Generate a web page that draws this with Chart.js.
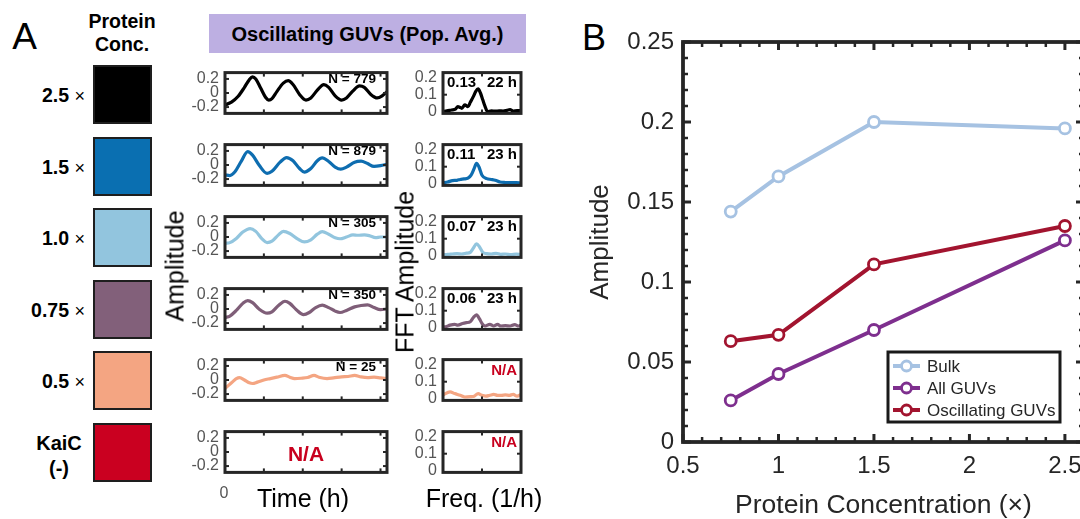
<!DOCTYPE html>
<html><head><meta charset="utf-8">
<script src="https://cdn.jsdelivr.net/npm/chart.js@4.4.0/dist/chart.umd.min.js"></script>
<style>
html,body{margin:0;padding:0;overflow:hidden;background:#fff;}
#fig{position:relative;width:1080px;height:519px;overflow:hidden;font-family:'Liberation Sans',Arial,sans-serif;}
.t{position:absolute;line-height:1;white-space:nowrap;}
canvas{position:absolute;}
.sq{position:absolute;box-sizing:border-box;border:2.5px solid #1e1e1e;width:59px;height:59px;}
</style></head><body><div id="fig"></div>
<script>
// ================= DATA =================
const concLabels = ['2.5', '1.5', '1.0', '0.75', '0.5'];
const negLabel = ['KaiC', '(-)'];
const nCounts = [779, 879, 305, 350, 25];
const fftPeakAmp = ['0.13', '0.11', '0.07', '0.06'];
const fftPeriod = ['22 h', '23 h', '23 h', '23 h'];
const timeTicksA = [-0.2, 0, 0.2];
const fftTicksA = [0, 0.1, 0.2];

// population-averaged time series (hours, amplitude)
const tsHours25 = [0,4,8,12,15,17,19,22,25,27,29,32,36,39,42,46,50,53,57,61,64,68,72,75,79,83,86,90,94,97,100];
const tsAmp25   = [-0.17,-0.13,-0.05,0.08,0.19,0.23,0.2,0.07,-0.06,-0.10,-0.08,0.02,0.14,0.175,0.12,-0.02,-0.10,-0.07,0.04,0.12,0.08,-0.04,-0.10,-0.07,0.03,0.10,0.08,-0.02,-0.07,-0.04,0.02];
const tsHours15 = [0,3,6,10,14,17,21,26,29,34,38,42,46,49,53,57,60,64,68,71.5,75,80,84,88,92,96,100];
const tsAmp15   = [-0.14,-0.15,-0.10,0.05,0.19,0.14,0.0,-0.12,-0.09,0.04,0.105,0.06,-0.05,-0.10,-0.05,0.06,0.10,0.05,-0.03,-0.06,-0.03,0.04,0.055,0.02,-0.02,-0.01,0.01];
const tsHours10 = [0,3,7,11,15.5,19,23,26,29,33,36,40,45,49,53,57,60,64,68,71,75,79,82,86,89,93,96,100];
const tsAmp10   = [-0.09,-0.08,-0.02,0.07,0.12,0.08,-0.03,-0.08,-0.06,0.03,0.08,0.05,-0.03,-0.07,-0.04,0.04,0.075,0.04,-0.01,-0.025,0.0,0.03,0.025,0.03,0.02,-0.01,0.0,0.0];
const tsHours075 = [0,3,7,11,14,17,21,26,29,33,37,40,44,48.5,52,56,60,64,68,71,75,80,84,88,92,96,100];
const tsAmp075   = [-0.12,-0.10,-0.02,0.08,0.12,0.09,0.0,-0.06,-0.04,0.05,0.11,0.08,-0.01,-0.08,-0.05,0.02,0.055,0.02,-0.03,-0.05,-0.02,0.03,0.05,0.06,0.02,-0.01,0.0];
const tsHours05 = [0,2,5,7,9,12,15,17,20,24,28,32,37,40,43,47,51,55,58,63,67,72,76,80,84,88,92,96,100];
const tsAmp05   = [-0.12,-0.08,-0.02,0.02,0.035,0.0,-0.04,-0.05,-0.03,0.0,0.02,0.04,0.065,0.04,0.02,0.025,0.035,0.065,0.04,0.02,0.03,0.045,0.05,0.065,0.045,0.035,0.04,0.03,0.02];

// FFT spectra (1/h, amplitude)
const fftFreq25 = [0,0.005,0.011,0.016,0.019,0.022,0.024,0.028,0.032,0.035,0.039,0.042,0.045,0.048,0.051,0.054,0.057,0.062,0.067,0.072,0.077,0.082,0.086,0.09,0.095,0.1];
const fftAmp25  = [0,0.005,0.01,0.015,0.03,0.025,0.02,0.04,0.03,0.055,0.09,0.12,0.134,0.11,0.07,0.03,0.0,0.005,0.003,0.005,0.004,0.008,0.012,0.004,0.006,0.006];
const fftFreq15 = [0,0.006,0.012,0.018,0.022,0.027,0.032,0.036,0.04,0.043,0.046,0.05,0.056,0.062,0.067,0.073,0.08,0.087,0.094,0.1];
const fftAmp15  = [0.005,0.01,0.018,0.02,0.025,0.028,0.033,0.05,0.09,0.12,0.1,0.05,0.03,0.025,0.02,0.01,0.007,0.006,0.006,0.005];
const fftFreq10 = [0,0.006,0.012,0.018,0.024,0.03,0.035,0.039,0.043,0.047,0.051,0.056,0.062,0.068,0.074,0.08,0.087,0.094,0.1];
const fftAmp10  = [0.005,0.008,0.01,0.012,0.01,0.015,0.02,0.045,0.07,0.05,0.02,0.012,0.01,0.014,0.008,0.01,0.006,0.009,0.007];
const fftFreq075 = [0,0.003,0.009,0.015,0.019,0.025,0.03,0.035,0.039,0.043,0.047,0.05,0.054,0.06,0.065,0.07,0.074,0.08,0.086,0.092,0.097,0.1];
const fftAmp075  = [0.005,0.005,0.015,0.02,0.015,0.025,0.03,0.035,0.06,0.075,0.05,0.025,0.01,0.02,0.01,0.02,0.01,0.012,0.01,0.018,0.01,0.015];
const fftFreq05 = [0,0.003,0.009,0.015,0.022,0.028,0.035,0.04,0.045,0.05,0.055,0.06,0.065,0.07,0.075,0.08,0.085,0.09,0.095,0.1];
const fftAmp05  = [0.02,0.03,0.04,0.03,0.02,0.01,0.012,0.015,0.03,0.02,0.015,0.02,0.025,0.02,0.02,0.022,0.02,0.025,0.015,0.025];

// Panel B
const proteinConc = [0.75, 1, 1.5, 2.5];
const bulkAmp   = [0.144, 0.166, 0.200, 0.196];
const allGuvAmp = [0.026, 0.0425, 0.070, 0.126];
const oscGuvAmp = [0.063, 0.067, 0.111, 0.135];
const ampTicksB  = [0, 0.05, 0.1, 0.15, 0.2, 0.25];
const concTicksB = [0.5, 1, 1.5, 2, 2.5];

// ================= STYLE =================
const rowColors = ['#000000', '#0a6fb1', '#92c5de', '#82607a', '#f4a582', '#ca0020'];
const lineColors = ['#000000', '#0e6db0', '#92c5de', '#7f5e78', '#f4a582'];
const FONT = "'Liberation Sans', Arial, sans-serif";
Chart.defaults.font.family = FONT;
const fig = document.getElementById('fig');

function txt(html, x, y, o = {}) {
  const d = document.createElement('div');
  d.className = 't'; d.innerHTML = html;
  d.style.left = x + 'px'; d.style.top = y + 'px';
  d.style.fontSize = (o.size || 16) + 'px';
  d.style.fontWeight = o.bold ? 'bold' : 'normal';
  d.style.color = o.color || '#000';
  const ax = o.align === 'right' ? '-100%' : o.align === 'left' ? '0' : '-50%';
  d.style.transform = `translate(${ax},-50%)` + (o.rot ? ` rotate(${o.rot}deg)` : '');
  fig.appendChild(d); return d;
}
function mkCanvas(left, top, w, h) {
  const c = document.createElement('canvas');
  c.width = w; c.height = h;
  c.style.left = left + 'px'; c.style.top = top + 'px';
  c.style.width = w + 'px'; c.style.height = h + 'px';
  fig.appendChild(c); return c;
}
let frameId = 0;
function makeFrame(cfg) {
  return { id: 'frame' + (frameId++), afterDraw(chart) {
    const { ctx, chartArea: a } = chart; const xs = chart.scales.x, ys = chart.scales.y;
    ctx.save(); ctx.strokeStyle = cfg.color || '#262626'; ctx.lineCap = 'butt';
    const seg = (x1, y1, x2, y2) => { ctx.beginPath(); ctx.moveTo(x1, y1); ctx.lineTo(x2, y2); ctx.stroke(); };
    (cfg.ticks || []).forEach(t => {
      ctx.lineWidth = t.w;
      (t.x || []).forEach(v => { const p = xs.getPixelForValue(v); seg(p, a.top, p, a.top + t.len); seg(p, a.bottom, p, a.bottom - t.len); });
      (t.y || []).forEach(v => { const p = ys.getPixelForValue(v); seg(a.left, p, a.left + t.len, p); seg(a.right, p, a.right - t.len, p); });
    });
    ctx.lineWidth = cfg.lw; ctx.strokeRect(a.left, a.top, a.right - a.left, a.bottom - a.top);
    ctx.restore();
  }};
}

// ================= PANEL A =================
txt('A', 24.5, 36, { size: 37 });
txt('Protein', 122, 22, { size: 19.5, bold: true });
txt('Conc.', 122, 45, { size: 19.5, bold: true });
const hdr = document.createElement('div');
Object.assign(hdr.style, { position: 'absolute', left: '209px', top: '14px', width: '317px', height: '39px', background: '#bdafe2' });
fig.appendChild(hdr);
txt('Oscillating GUVs (Pop. Avg.)', 367.5, 33.5, { size: 20, bold: true });

const sqTops = [65, 137, 208, 280, 351, 423];
rowColors.forEach((c, i) => {
  const s = document.createElement('div'); s.className = 'sq';
  s.style.left = '93px'; s.style.top = sqTops[i] + 'px'; s.style.background = c;
  fig.appendChild(s);
  const cy = sqTops[i] + 30.5;
  if (i < concLabels.length) {
    txt(`<b style="font-size:19.5px">${concLabels[i]}</b> <span style="font-size:18px">×</span>`, 85, cy, { align: 'right', size: 19.5 });
  } else {
    txt(negLabel[0], 59, cy - 11, { size: 20, bold: true });
    txt(negLabel[1], 59, cy + 14, { size: 20, bold: true });
  }
});

const tsRows = [[tsHours25, tsAmp25], [tsHours15, tsAmp15], [tsHours10, tsAmp10], [tsHours075, tsAmp075], [tsHours05, tsAmp05], null];
const fftRows = [[fftFreq25, fftAmp25], [fftFreq15, fftAmp15], [fftFreq10, fftAmp10], [fftFreq075, fftAmp075], [fftFreq05, fftAmp05], null];
const frameTops = [66.5, 138.5, 210.5, 282.5, 354, 426];

function smallChart(canvas, rows, col, xr, yr, ticksY, yW, frameTicks) {
  const ds = rows ? [{ data: rows[0].map((x, k) => ({ x: x, y: rows[1][k] })), borderColor: col, borderWidth: 3.2,
    pointRadius: 0, cubicInterpolationMode: 'monotone', fill: false }] : [];
  return new Chart(canvas, {
    type: 'line', data: { datasets: ds },
    options: {
      responsive: false, animation: false, events: [],
      layout: { padding: { left: 0, right: 3, top: 10, bottom: 10 } },
      plugins: { legend: { display: false }, tooltip: { enabled: false } },
      scales: {
        x: { type: 'linear', min: xr[0], max: xr[1], display: false },
        y: { type: 'linear', min: yr[0], max: yr[1],
          afterFit(s) { s.width = yW; },
          afterBuildTicks(s) { s.ticks = ticksY.map(v => ({ value: v })); },
          grid: { display: false, drawTicks: false }, border: { display: false },
          ticks: { padding: 6, color: '#555', font: { size: 16 }, callback: v => String(v) } }
      }
    },
    plugins: [makeFrame({ lw: 3, color: '#262626', ticks: [frameTicks] })]
  });
}

for (let i = 0; i < 6; i++) {
  const ft = frameTops[i];
  const c1 = mkCanvas(175, ft - 10, 215, 72);
  smallChart(c1, tsRows[i], lineColors[i], [0, 100], [-0.29, 0.29], timeTicksA, 50,
    { w: 2, len: 4, x: [24, 48, 72, 96], y: timeTicksA });
  const c2 = mkCanvas(400, ft - 10, 124, 72);
  smallChart(c2, fftRows[i], lineColors[i], [0, 0.1], [-0.01, 0.23], fftTicksA, 43,
    { w: 2, len: 4, x: [0.05], y: [0.1] });
  if (i < nCounts.length) txt('N = ' + nCounts[i], 376, ft + 12.5, { size: 13.5, bold: true, align: 'right' });
  else txt('N/A', 306, ft + 26.5, { size: 21, bold: true, color: '#c8001e' });
  if (i < fftPeakAmp.length) {
    txt(fftPeakAmp[i], 447, ft + 14, { size: 15, bold: true, align: 'left' });
    txt(fftPeriod[i], 517, ft + 14, { size: 15, bold: true, align: 'right' });
  } else {
    txt('N/A', 517, ft + 15, { size: 15, bold: true, color: '#c8001e', align: 'right' });
  }
}
txt('Amplitude', 175, 266, { size: 25, rot: -90 });
txt('FFT Amplitude', 405, 272, { size: 25, rot: -90 });
txt('0', 224, 493, { size: 16, color: '#555' });
txt('Time (h)', 303, 498, { size: 25 });
txt('Freq. (1/h)', 484, 498, { size: 25 });

// ================= PANEL B =================
txt('B', 594, 37.5, { size: 36 });
const cB = mkCanvas(560, 0, 535, 519);
const mkDs = (label, vals, col) => ({
  label: label, data: proteinConc.map((x, k) => ({ x: x, y: vals[k] })),
  borderColor: col, backgroundColor: col, borderWidth: 4,
  pointRadius: 5.5, pointBorderWidth: 2.8, pointBackgroundColor: '#ffffff', pointBorderColor: col, fill: false, tension: 0
});
const xMinor = [], yMinor = [];
for (let k = 6; k <= 25; k++) if (k % 5) xMinor.push(k / 10);
for (let k = 1; k <= 24; k++) if (k % 5) yMinor.push(k / 100);
const boxLegend = { id: 'boxLegend', afterDraw(chart) {
  const { ctx, chartArea: a } = chart;
  const w = 172, h = 70, x = a.right - 24 - w, y = a.bottom - 20 - h;
  ctx.save();
  ctx.fillStyle = '#fff'; ctx.fillRect(x, y, w, h);
  ctx.lineWidth = 3; ctx.strokeStyle = '#1a1a1a'; ctx.strokeRect(x, y, w, h);
  chart.data.datasets.forEach((ds, i) => {
    const cy = y + 14 + 22 * i;
    ctx.strokeStyle = ds.borderColor; ctx.lineWidth = ds.borderWidth;
    ctx.beginPath(); ctx.moveTo(x + 5, cy); ctx.lineTo(x + 32, cy); ctx.stroke();
    ctx.beginPath(); ctx.arc(x + 18.5, cy, ds.pointRadius - 0.5, 0, 2 * Math.PI);
    ctx.fillStyle = '#fff'; ctx.fill(); ctx.lineWidth = ds.pointBorderWidth; ctx.stroke();
    ctx.fillStyle = '#262626'; ctx.font = '17px ' + FONT; ctx.textBaseline = 'middle';
    ctx.fillText(ds.label, x + 39, cy + 1);
  });
  ctx.restore();
}};
new Chart(cB, {
  type: 'line',
  data: { datasets: [mkDs('Bulk', bulkAmp, '#a6c2e2'), mkDs('All GUVs', allGuvAmp, '#7e2f8e'), mkDs('Oscillating GUVs', oscGuvAmp, '#a2142f')] },
  options: {
    responsive: false, animation: false, events: [],
    layout: { padding: { left: 0, right: 11, top: 42, bottom: 0 } },
    plugins: { legend: { display: false }, tooltip: { enabled: false } },
    scales: {
      x: { type: 'linear', min: 0.5, max: 2.6,
        afterFit(s) { s.height = 77; },
        afterBuildTicks(s) { s.ticks = concTicksB.map(v => ({ value: v })); },
        grid: { display: false, drawTicks: false }, border: { display: false },
        ticks: { padding: 10, color: '#262626', font: { size: 24 }, maxRotation: 0, callback: v => String(v) },
        title: { display: true, text: 'Protein Concentration (×)', color: '#262626', font: { size: 26.5, lineHeight: 1 }, padding: { top: 0, bottom: 0 } } },
      y: { type: 'linear', min: 0, max: 0.25,
        afterFit(s) { s.width = 123; },
        afterBuildTicks(s) { s.ticks = ampTicksB.map(v => ({ value: v })); },
        grid: { display: false, drawTicks: false }, border: { display: false },
        ticks: { padding: 9, color: '#262626', font: { size: 24 }, callback: v => String(v) },
        title: { display: true, text: 'Amplitude', color: '#262626', font: { size: 26, lineHeight: 1 }, padding: { top: 28, bottom: 0 } } }
    }
  },
  plugins: [makeFrame({ lw: 3.8, color: '#262626', ticks: [
    { w: 2.5, len: 5, x: xMinor, y: yMinor },
    { w: 3, len: 8, x: concTicksB, y: ampTicksB }
  ] }), boxLegend]
});
</script></body></html>
